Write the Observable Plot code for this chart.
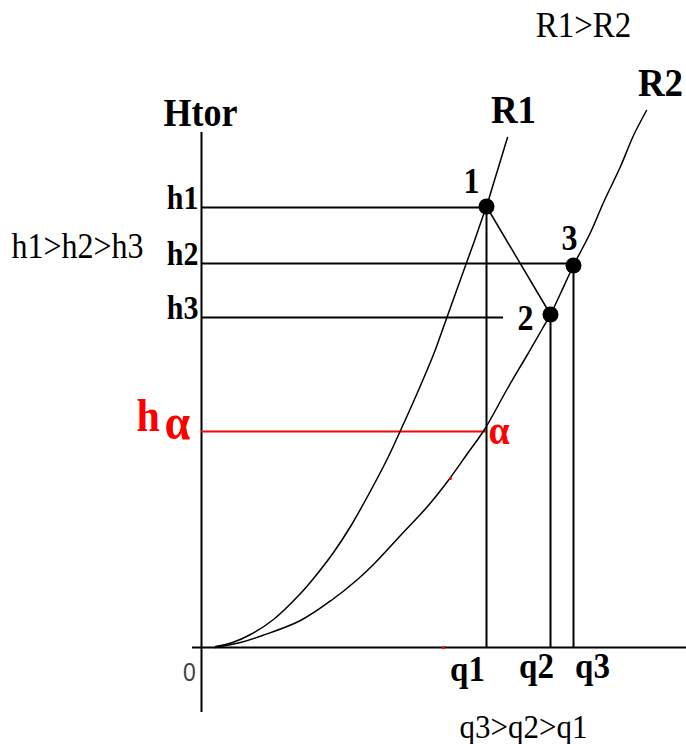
<!DOCTYPE html>
<html>
<head>
<meta charset="utf-8">
<script src="https://cdn.jsdelivr.net/npm/d3@7"></script>
<script src="https://cdn.jsdelivr.net/npm/@observablehq/plot@0.6"></script>
<style>
  html, body { margin: 0; padding: 0; background: #fff; }
  #chart svg { display: block; }
</style>
</head>
<body>
<div id="chart"></div>
<script>
// ---- data (q = flow, H = head, arbitrary units) ----
const r1Q = [0.14, 0.31, 0.49, 0.72, 0.99, 1.12, 1.32, 1.49, 1.66, 1.86, 1.99, 2.16, 2.32, 2.39, 2.59, 2.72, 2.81, 2.85, 2.92, 3.06];
const r1H = [0.01, 0.05, 0.13, 0.28, 0.54, 0.69, 0.95, 1.21, 1.51, 1.89, 2.17, 2.55, 2.93, 3.12, 3.68, 4.04, 4.30, 4.41, 4.64, 5.10];
const r2Q = [0.14, 0.39, 0.61, 0.99, 1.31, 1.56, 1.72, 1.99, 2.26, 2.46, 2.66, 2.83, 3.06, 3.26, 3.41, 3.49, 3.59, 3.72, 3.89, 4.02, 4.19, 4.32, 4.45];
const r2H = [0.00, 0.05, 0.12, 0.27, 0.48, 0.68, 0.83, 1.12, 1.41, 1.66, 1.94, 2.18, 2.59, 2.93, 3.19, 3.33, 3.54, 3.82, 4.15, 4.45, 4.81, 5.12, 5.37];

const qNames = ["q1", "q2", "q3"];
const qValues = [2.85, 3.49, 3.72];
const hNames = ["h1", "h2", "h3"];
const hValues = [4.40, 3.84, 3.30];
const hLineEnds = [2.85, 3.72, 3.02];
const hAlpha = 2.16;

const pointNames = ["1", "2", "3"];
const pointQ = [2.85, 3.49, 3.72];
const pointH = [4.41, 3.33, 3.82];

const axisQ = [-0.09, 4.85];
const axisH = [-0.65, 5.15];
const redSpecks = [[2.42, 0.0], [2.49, 1.69]];

// ---- build tables ----
const r1 = r1Q.map((q, i) => ({q, h: r1H[i]}));
const r2 = r2Q.map((q, i) => ({q, h: r2H[i]}));
const pts = pointNames.map((name, i) => ({name, q: pointQ[i], h: pointH[i]}));
const hRows = hNames.map((name, i) => ({name, h: hValues[i], end: hLineEnds[i]}));
const qRows = qNames.map((name, i) => ({name, q: qValues[i], top: pointH[i]}));

const serif = "'Liberation Serif', 'Times New Roman', serif";

const pointLabelOffsets = {"1": [-15, -14], "2": [-25, 15], "3": [-4, -16]};
const qLabelOffsets = {"q1": [-19, 33], "q2": [-14, 30], "q3": [19, 30]};

const marks = [
  // axes
  Plot.ruleX([0], {y1: axisH[0], y2: axisH[1], stroke: "black", strokeWidth: 2}),
  Plot.ruleY([0], {x1: axisQ[0], x2: axisQ[1], stroke: "black", strokeWidth: 2}),
  // guide lines
  Plot.ruleY(hRows, {y: "h", x1: 0, x2: "end", stroke: "black", strokeWidth: 2}),
  Plot.ruleX(qRows, {x: "q", y1: 0, y2: "top", stroke: "black", strokeWidth: 2}),
  Plot.ruleY([hAlpha], {x1: 0, x2: qValues[0], stroke: "#ff0000", strokeWidth: 2}),
  // curves
  Plot.line(r1, {x: "q", y: "h", curve: "catmull-rom", stroke: "black", strokeWidth: 1.5}),
  Plot.line(r2, {x: "q", y: "h", curve: "catmull-rom", stroke: "black", strokeWidth: 1.5}),
  Plot.line([pts[0], pts[1]], {x: "q", y: "h", stroke: "black", strokeWidth: 1.5}),
  Plot.dot(redSpecks, {x: d => d[0], y: d => d[1], r: 1.5, fill: "#ff0000", stroke: null}),
  Plot.dot(pts, {x: "q", y: "h", r: 8, fill: "black", stroke: null}),
  // texts
  Plot.text(["R1>R2"], {x: 3.82, y: 6.11, text: d => d, fontFamily: serif, fontSize: 33, textAnchor: "middle", lineAnchor: "bottom", fill: "black"}),
  Plot.text(["Htor"], {x: -0.38, y: 5.22, text: d => d, fontFamily: serif, fontSize: 36, fontWeight: "bold", textAnchor: "start", lineAnchor: "bottom", fill: "black"}),
  Plot.text(["R1"], {x: 3.12, y: 5.25, text: d => d, fontFamily: serif, fontSize: 37, fontWeight: "bold", textAnchor: "middle", lineAnchor: "bottom", fill: "black"}),
  Plot.text(["R2"], {x: 4.59, y: 5.52, text: d => d, fontFamily: serif, fontSize: 37, fontWeight: "bold", textAnchor: "middle", lineAnchor: "bottom", fill: "black"}),
  Plot.text(hRows, {x: 0, y: "h", text: "name", dx: -3, dy: 1, fontFamily: serif, fontSize: 30, fontWeight: "bold", textAnchor: "end", lineAnchor: "bottom", fill: "black"}),
  Plot.text(["h1>h2>h3"], {x: -1.24, y: 3.90, text: d => d, fontFamily: serif, fontSize: 32, textAnchor: "middle", lineAnchor: "bottom", fill: "black"}),
  ...pts.map(p => Plot.text([p], {x: "q", y: "h", text: "name", dx: pointLabelOffsets[p.name][0], dy: pointLabelOffsets[p.name][1], fontFamily: serif, fontSize: 32, fontWeight: "bold", textAnchor: "middle", lineAnchor: "bottom", fill: "black"})),
  ...qRows.map(r => Plot.text([r], {x: "q", y: 0, text: "name", dx: qLabelOffsets[r.name][0], dy: qLabelOffsets[r.name][1], fontFamily: serif, fontSize: 33, fontWeight: "bold", textAnchor: "middle", lineAnchor: "bottom", fill: "black"})),
  Plot.text(["0"], {x: 0, y: 0, text: d => d, dx: -12, dy: 33, fontFamily: "'Liberation Sans', Arial, sans-serif", fontSize: 23, textAnchor: "middle", lineAnchor: "bottom", fill: "#444"}),
  Plot.text(["q3>q2>q1"], {x: 3.22, y: -0.90, text: d => d, fontFamily: serif, fontSize: 31, textAnchor: "middle", lineAnchor: "bottom", fill: "black"}),
  // h-alpha
  Plot.text(["h"], {x: 0, y: hAlpha, text: d => d, dx: -65, dy: -1, fontFamily: serif, fontSize: 42, fontWeight: "bold", textAnchor: "start", lineAnchor: "bottom", fill: "#ff0000"}),
  Plot.text(["α"], {x: 0, y: hAlpha, text: d => d, dx: -37, dy: 7, fontFamily: serif, fontSize: 46, fontWeight: "bold", textAnchor: "start", lineAnchor: "bottom", fill: "#ff0000"}),
  Plot.text(["α"], {x: qValues[0], y: hAlpha, text: d => d, dx: 2, dy: 12, fontFamily: serif, fontSize: 38, fontWeight: "bold", textAnchor: "start", lineAnchor: "bottom", fill: "#ff0000"})
];

const chart = Plot.plot({
  width: 686,
  height: 744,
  margin: 0,
  x: {domain: [-2.01, 4.85], axis: null},
  y: {domain: [-0.97, 6.47], axis: null},
  style: {background: "white", overflow: "visible"},
  marks
});

// the reference glyphs are slightly taller than wide: stretch text vertically about its baseline
d3.select(chart).selectAll("text").each(function () {
  const el = this;
  const tr = el.getAttribute("transform");
  const x = el.getAttribute("x");
  const y = el.getAttribute("y");
  if (tr && !x && !y) {
    el.setAttribute("transform", tr + " scale(1,1.1)");
  } else {
    const tx = +(x || 0), ty = +(y || 0);
    el.removeAttribute("x");
    el.removeAttribute("y");
    el.setAttribute("transform", (tr ? tr + " " : "") + `translate(${tx},${ty}) scale(1,1.1)`);
  }
});

document.getElementById("chart").appendChild(chart);
</script>
</body>
</html>
